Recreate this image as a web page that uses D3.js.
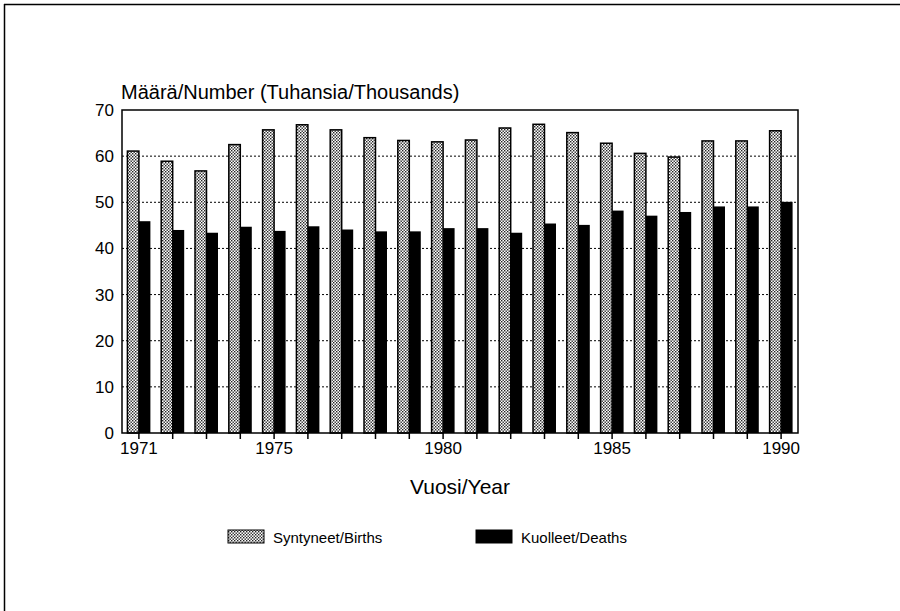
<!DOCTYPE html>
<html><head><meta charset="utf-8">
<script src="https://cdn.jsdelivr.net/npm/d3@7"></script>
<style>body{margin:0;background:#fff}svg{display:block;font-family:"Liberation Sans",Arial,sans-serif}</style>
</head><body>
<svg id="c" width="900" height="611"></svg>
<script>
const years = [1971,1972,1973,1974,1975,1976,1977,1978,1979,1980,1981,1982,1983,1984,1985,1986,1987,1988,1989,1990];
const births = [61.1,58.9,56.8,62.5,65.7,66.8,65.7,64.0,63.4,63.1,63.5,66.1,66.9,65.1,62.8,60.6,59.8,63.3,63.3,65.5];
const deaths = [45.9,44.0,43.4,44.7,43.8,44.8,44.1,43.7,43.7,44.4,44.4,43.4,45.4,45.1,48.2,47.1,47.9,49.1,49.1,50.1];
const yTicks = [0,10,20,30,40,50,60,70];
const xLabels = [1971,1975,1980,1985,1990];
const seriesNames = ["Syntyneet/Births","Kuolleet/Deaths"];

const svg = d3.select("#c");
const defs = svg.append("defs");
const pat = defs.append("pattern").attr("id","dots").attr("patternUnits","userSpaceOnUse")
  .attr("width",3).attr("height",3);
pat.append("rect").attr("width",3).attr("height",3).attr("fill","#fff");
pat.append("rect").attr("x",0).attr("y",0).attr("width",1.4).attr("height",1.4).attr("fill","#222");
pat.append("rect").attr("x",1.5).attr("y",1.5).attr("width",1.4).attr("height",1.4).attr("fill","#222");

// page frame
svg.append("line").attr("x1",4).attr("x2",900).attr("y1",4.5).attr("y2",4.5).attr("stroke","#000").attr("stroke-width",1.5);
svg.append("line").attr("x1",4.5).attr("x2",4.5).attr("y1",4).attr("y2",611).attr("stroke","#000").attr("stroke-width",1.5);

const L=122, R=798, T=110, B=433;
const x = d3.scaleBand().domain(years).range([L,R]).paddingInner(0.32).paddingOuter(0.16);
const y = d3.scaleLinear().domain([0,70]).range([B,T]);
const bw = x.bandwidth()/2;

// gridlines
svg.append("g").selectAll("line").data(yTicks.filter(d=>d>0&&d<70)).join("line")
  .attr("x1",L).attr("x2",R).attr("y1",d=>y(d)).attr("y2",d=>y(d))
  .attr("stroke","#000").attr("stroke-width",1).attr("stroke-dasharray","2,2");

// bars
svg.append("g").selectAll("rect").data(years).join("rect")
  .attr("x",(d)=>x(d)).attr("width",bw)
  .attr("y",(d,i)=>y(births[i])).attr("height",(d,i)=>B-y(births[i]))
  .attr("fill","url(#dots)").attr("stroke","#000").attr("stroke-width",1.5);
svg.append("g").selectAll("rect").data(years).join("rect")
  .attr("x",(d)=>x(d)+bw).attr("width",bw)
  .attr("y",(d,i)=>y(deaths[i])).attr("height",(d,i)=>B-y(deaths[i]))
  .attr("fill","#000");

// plot frame
svg.append("rect").attr("x",L).attr("y",T).attr("width",R-L).attr("height",B-T)
  .attr("fill","none").attr("stroke","#000").attr("stroke-width",1.5);

// y axis
const ya = svg.append("g").attr("transform",`translate(${L},0)`)
  .call(d3.axisLeft(y).tickValues(yTicks).tickSize(0).tickPadding(8).tickFormat(d3.format("d")));
ya.select(".domain").remove();
ya.attr("font-size",17).attr("font-family","Liberation Sans, Arial, sans-serif");
ya.selectAll("text").attr("fill","#000");

// x axis
const xa = svg.append("g").attr("transform",`translate(0,${B})`)
  .call(d3.axisBottom(x).tickSize(6).tickPadding(3).tickFormat(d=>xLabels.includes(d)?d:""));
xa.select(".domain").remove();
xa.attr("font-size",17).attr("font-family","Liberation Sans, Arial, sans-serif");
xa.selectAll("line").attr("stroke","#000").attr("stroke-width",1.5);
xa.selectAll("text").attr("fill","#000");

// titles
svg.append("text").attr("x",L-1).attr("y",99).attr("font-size",20).text("Määrä/Number (Tuhansia/Thousands)");
svg.append("text").attr("x",(L+R)/2).attr("y",494).attr("font-size",21).attr("text-anchor","middle").text("Vuosi/Year");

// legend
const lg = [{x:228, fill:"url(#dots)", stroke:"#000"},{x:476, fill:"#000", stroke:"#000"}];
lg.forEach((d,i)=>{
  svg.append("rect").attr("x",d.x).attr("y",530).attr("width",36).attr("height",13)
    .attr("fill",d.fill).attr("stroke",d.stroke).attr("stroke-width",1);
  svg.append("text").attr("x",d.x+45).attr("y",543).attr("font-size",15).text(seriesNames[i]);
});
</script>
</body></html>
